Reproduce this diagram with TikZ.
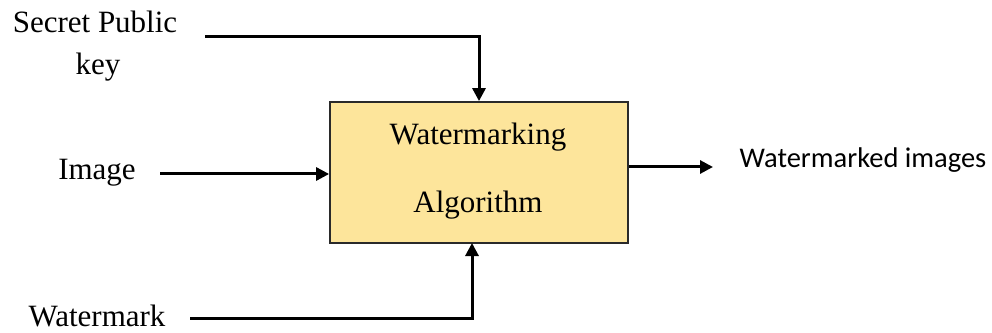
\documentclass[tikz,border=0pt]{standalone}
\usepackage{fontspec}
\setmainfont{Liberation Serif}
\newfontfamily\calibrifont{Carlito}
\usetikzlibrary{arrows.meta}
\definecolor{boxfill}{HTML}{FDE59B}
\definecolor{boxline}{HTML}{2A2A2A}
\tikzset{
  label/.style={inner sep=0pt, anchor=base, font=\fontsize{31}{36}\selectfont},
  outlabel/.style={inner sep=0pt, anchor=base, font=\calibrifont\fontsize{28.5}{34}\selectfont},
  flow/.style={line width=3pt, -{Triangle[length=13pt,width=13pt]}},
  algbox/.style={draw=boxline, line width=1.8pt, fill=boxfill, minimum width=298pt, minimum height=141pt, inner sep=0pt}
}
\begin{document}
\begin{tikzpicture}[x=1pt,y=1pt]
\useasboundingbox (0,0) rectangle (992,332);

% central processing block
\node[algbox] (alg) at (479,159.5) {};
\node[label] (algtop) at (478,187) {Watermarking};
\node[label] (algbot) at (478,119) {Algorithm};

% inputs
\node[label] (keyA) at (95,299) {Secret Public};
\node[label] (keyB) at (98,257) {key};
\node[label] (img) at (97,152) {Image};
\node[label] (wm) at (97,6) {Watermark};

% output
\node[outlabel] (out) at (863,164) {Watermarked images};

% connector end points
\coordinate (keyStart) at (205,295);
\coordinate (imgStart) at (160,158);
\coordinate (wmStart) at (190,14);
\coordinate (wmIn) at (472,89);
\coordinate (outEnd) at (713,165);

\draw[flow] (keyStart) -| (alg.north);
\draw[flow] (imgStart) -- (imgStart -| alg.west);
\draw[flow] (wmStart) -| (wmIn);
\draw[flow] (alg.east |- outEnd) -- (outEnd);
\end{tikzpicture}
\end{document}
